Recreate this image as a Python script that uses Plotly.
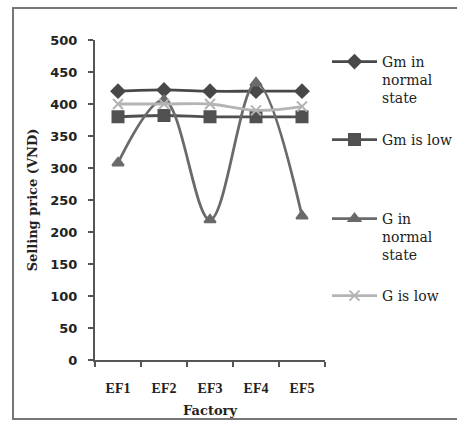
import plotly.graph_objects as go

factories = ["EF1", "EF2", "EF3", "EF4", "EF5"]
gm_normal = [420, 422, 420, 420, 420]
gm_low = [380, 382, 380, 380, 380]
g_normal = [308, 406, 219, 433, 225]
g_low = [400, 400, 400, 390, 396]

series_names = ["Gm in<br>normal<br>state", "Gm is low", "G in<br>normal<br>state", "G is low"]
y_ticks = [0, 50, 100, 150, 200, 250, 300, 350, 400, 450, 500]

W, H = 457, 422
L, R, T, B = 95, 325, 40, 360  # plot area in pixels

serif = "DejaVu Serif"

def px_x(x):
    return (x - L) / (R - L)

def px_y(y):
    return (B - y) / (B - T)

styles = [
    dict(color="#484848", symbol="diamond", size=10, lw=2.8),
    dict(color="#505050", symbol="square", size=11, lw=2.8),
    dict(color="#6a6a6a", symbol="triangle-up", size=10, lw=2.8),
    dict(color="#b4b4b4", symbol="x-thin", size=10, lw=2.8),
]
data = [gm_normal, gm_low, g_normal, g_low]
legends = ["legend", "legend2", "legend3", "legend4"]
legend_tops = [46, 124, 203, 280]

fig = go.Figure()
for vals, name, st, lg in zip(data, series_names, styles, legends):
    fig.add_trace(go.Scatter(
        x=factories, y=vals, name=name, mode="lines+markers",
        line=dict(color=st["color"], width=st["lw"], shape="spline", smoothing=1),
        marker=dict(symbol=st["symbol"], size=st["size"], color=st["color"],
                    line=dict(color=st["color"], width=2)),
        legend=lg,
    ))

legend_common = dict(
    x=px_x(327), xanchor="left", yanchor="top", valign="top",
    font=dict(family=serif, size=14, color="#222"),
    bgcolor="rgba(0,0,0,0)", itemwidth=45, tracegroupgap=0,
)
layout_legends = {}
for lg, top in zip(legends, legend_tops):
    layout_legends[lg] = dict(legend_common, y=px_y(top))

fig.update_layout(
    width=W, height=H, autosize=False,
    margin=dict(l=L, r=W - R, t=T, b=H - B, pad=0, autoexpand=False),
    paper_bgcolor="white", plot_bgcolor="white",
    showlegend=True,
    **layout_legends,
    xaxis=dict(
        type="category", range=[-0.5, 4.5],
        showline=True, linecolor="#555", linewidth=2,
        ticks="outside", tickson="boundaries", ticklen=5, tickcolor="#555", tickwidth=2,
        showgrid=False, zeroline=False,
        tickfont=dict(family="Liberation Serif", size=14, color="#222", weight="bold"),
        ticklabelstandoff=14,
        title=dict(text="<b>Factory</b>", font=dict(family=serif, size=13, color="#222"), standoff=11),
    ),
    yaxis=dict(
        range=[0, 500], tickvals=y_ticks,
        showline=True, linecolor="#555", linewidth=2,
        ticks="outside", ticklen=5, tickcolor="#555", tickwidth=2,
        showgrid=False, zeroline=False,
        tickfont=dict(family="DejaVu Sans", size=13, color="#222", weight="bold"),
        ticklabelstandoff=8,
        title=dict(text="<b>Selling price (VND)</b>", font=dict(family=serif, size=13, color="#222"), standoff=10),
    ),
    shapes=[dict(
        type="rect", xref="paper", yref="paper",
        x0=px_x(13), x1=px_x(W + 5), y0=px_y(419), y1=px_y(8),
        line=dict(color="#777", width=2), fillcolor="rgba(0,0,0,0)", layer="below",
    )],
)

fig.write_html("out.html")
